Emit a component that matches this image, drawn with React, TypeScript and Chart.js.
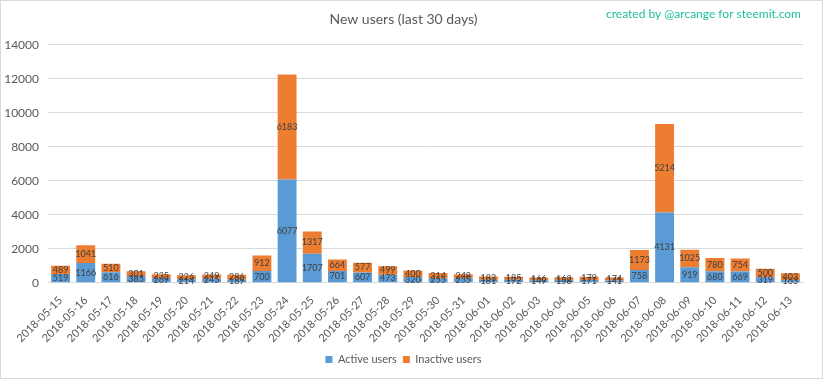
import React, { useEffect, useRef } from "react";
import { Chart, registerables } from "chart.js";

Chart.register(...registerables);

const dates = [
  "2018-05-15", "2018-05-16", "2018-05-17", "2018-05-18", "2018-05-19", "2018-05-20",
  "2018-05-21", "2018-05-22", "2018-05-23", "2018-05-24", "2018-05-25", "2018-05-26",
  "2018-05-27", "2018-05-28", "2018-05-29", "2018-05-30", "2018-05-31", "2018-06-01",
  "2018-06-02", "2018-06-03", "2018-06-04", "2018-06-05", "2018-06-06", "2018-06-07",
  "2018-06-08", "2018-06-09", "2018-06-10", "2018-06-11", "2018-06-12", "2018-06-13",
];
const activeUsers = [
  519, 1166, 616, 385, 269, 214, 245, 189, 700, 6077, 1707, 701, 607, 473, 320,
  255, 255, 181, 172, 149, 158, 171, 141, 758, 4131, 919, 680, 669, 319, 163,
];
const inactiveUsers = [
  489, 1041, 510, 301, 235, 226, 249, 286, 912, 6183, 1317, 664, 577, 499, 400,
  314, 248, 183, 185, 166, 162, 179, 174, 1173, 5214, 1025, 780, 754, 500, 403,
];
const yTicks = [0, 2000, 4000, 6000, 8000, 10000, 12000, 14000];

const FONT = "Lato, 'Open Sans', sans-serif";
const GRAY = "#595959";

const labelPlugin = {
  id: "barLabels",
  afterDatasetsDraw(chart: any) {
    const ctx = chart.ctx;
    ctx.save();
    ctx.font = `9px ${FONT}`;
    ctx.fillStyle = "#404040";
    ctx.textAlign = "center";
    ctx.textBaseline = "middle";
    chart.data.datasets.forEach((ds: any, di: number) => {
      const meta = chart.getDatasetMeta(di);
      meta.data.forEach((bar: any, i: number) => {
        const y = (bar.y + bar.base) / 2;
        ctx.fillText(String(ds.data[i]), bar.x, y);
      });
    });
    ctx.restore();
  },
};

const decorPlugin = {
  id: "decor",
  afterDraw(chart: any) {
    const ctx = chart.ctx;
    ctx.save();
    ctx.font = `12px ${FONT}`;
    ctx.fillStyle = "#1fbf9a";
    ctx.textAlign = "left";
    ctx.textBaseline = "middle";
    ctx.fillText("created by @arcange for steemit.com", 606, 14);
    ctx.strokeStyle = "#d9d9d9";
    ctx.lineWidth = 1;
    ctx.strokeRect(0.5, 0.5, chart.width - 1, chart.height - 1);
    ctx.restore();
  },
};

export default function App() {
  const ref = useRef<HTMLCanvasElement>(null);
  useEffect(() => {
    document.body.style.margin = "0";
    const chart = new Chart(ref.current!, {
      type: "bar",
      data: {
        labels: dates,
        datasets: [
          { label: "Active users", data: activeUsers, backgroundColor: "#5b9bd5" },
          { label: "Inactive users", data: inactiveUsers, backgroundColor: "#ed7d31" },
        ],
      },
      options: {
        animation: false,
        responsive: false,
        maintainAspectRatio: false,
        layout: { padding: { left: 4, right: 20, top: 4, bottom: 4 } },
        datasets: { bar: { categoryPercentage: 0.75, barPercentage: 1 } },
        plugins: {
          title: {
            display: true,
            text: "New users (last 30 days)",
            color: GRAY,
            font: { family: FONT, size: 14, weight: "normal" },
            padding: { top: 7, bottom: 17 },
          },
          legend: {
            position: "bottom",
            labels: {
              color: GRAY,
              font: { family: FONT, size: 11 },
              boxWidth: 7,
              boxHeight: 7,
              padding: 6,
            },
          },
          tooltip: { enabled: false },
        },
        scales: {
          x: {
            stacked: true,
            grid: { display: false },
            border: { color: "#d9d9d9" },
            ticks: {
              color: GRAY,
              font: { family: FONT, size: 11 },
              maxRotation: 45,
              minRotation: 45,
              autoSkip: false,
            },
          },
          y: {
            stacked: true,
            min: 0,
            max: 14000,
            afterBuildTicks: (axis: any) => {
              axis.ticks = yTicks.map((v) => ({ value: v }));
            },
            afterFit: (s: any) => {
              s.width = 44;
            },
            grid: { color: "#d9d9d9", drawTicks: false },
            border: { display: false },
            ticks: {
              color: GRAY,
              font: { family: FONT, size: 12 },
              padding: 9,
              callback: (v: any) => String(v),
            },
          },
        },
      },
      plugins: [labelPlugin, decorPlugin],
    });
    return () => chart.destroy();
  }, []);
  return <canvas ref={ref} width={823} height={379} style={{ display: "block" }} />;
}
